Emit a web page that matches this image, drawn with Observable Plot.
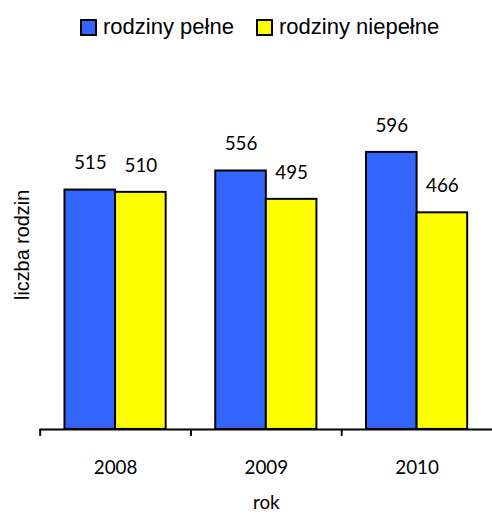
<!DOCTYPE html>
<html>
<head>
<meta charset="utf-8">
<script src="https://cdn.jsdelivr.net/npm/d3@7"></script>
<script src="https://cdn.jsdelivr.net/npm/@observablehq/plot@0.6"></script>
<style>
  html, body { margin: 0; padding: 0; background: #fff; overflow: hidden; width: 492px; height: 514px; }
  #legend { position: relative; height: 50px; font-family: "Liberation Sans", Arial, sans-serif; font-size: 22px; color: #000; }
  .item { position: absolute; top: 14px; display: flex; align-items: center; line-height: 26px; }
  .sw { width: 13px; height: 13px; border: 2px solid #000; margin-right: 6px; box-sizing: content-box; }
  #chart svg { display: block; overflow: visible; }
</style>
</head>
<body>
<div id="legend"></div>
<div id="chart"></div>
<script>
const years = ["2008", "2009", "2010"];
const series = ["rodziny pełne", "rodziny niepełne"];
const colors = ["#3366FF", "#FFFF00"];
const pelne = [515, 556, 596];
const niepelne = [510, 495, 466];

const data = years.flatMap((y, i) => [
  {year: y, series: series[0], value: pelne[i]},
  {year: y, series: series[1], value: niepelne[i]}
]);

// legend
const legend = document.getElementById("legend");
const lefts = [80, 256];
series.forEach((s, i) => {
  const it = document.createElement("div");
  it.className = "item";
  it.style.left = lefts[i] + "px";
  const sw = document.createElement("div");
  sw.className = "sw";
  sw.style.background = colors[i];
  const t = document.createElement("span");
  t.textContent = s;
  it.appendChild(sw); it.appendChild(t);
  legend.appendChild(it);
});

const W = 496, H = 464;
const band = (W - 40) / years.length;
const bw = 51, off = 25;

const plot = Plot.plot({
  width: W,
  height: H,
  marginLeft: 40,
  marginRight: 0,
  marginTop: 54,
  marginBottom: 82,
  style: {fontFamily: "Lato, sans-serif", background: "transparent"},
  x: {type: "band", domain: years, padding: 0},
  y: {domain: [0, 700], axis: null},
  color: {domain: series, range: colors},
  marks: [
    Plot.barY(data.filter(d => d.series === series[0]), {
      x: "year", y: "value", fill: "series", stroke: "black", strokeWidth: 2,
      insetLeft: off, insetRight: band - off - bw
    }),
    Plot.barY(data.filter(d => d.series === series[1]), {
      x: "year", y: "value", fill: "series", stroke: "black", strokeWidth: 2,
      insetLeft: off + bw, insetRight: band - off - 2 * bw
    }),
    Plot.text(data.filter(d => d.series === series[0]), {
      x: "year", y: "value", text: d => String(d.value),
      dx: -(band / 2 - off - bw / 2), dy: -27, fontSize: 19, fill: "#000"
    }),
    Plot.text(data.filter(d => d.series === series[1]), {
      x: "year", y: "value", text: d => String(d.value),
      dx: off + bw * 1.5 - band / 2, dy: -27, fontSize: 19, fill: "#000"
    }),
    Plot.ruleY([0], {stroke: "black", strokeWidth: 2}),
    Plot.ruleX(years, {x: d => d, y1: 0, y2: 0, dx: -band / 2, insetBottom: -7, stroke: "black", strokeWidth: 2}),
    Plot.axisX({tickSize: 0, tickPadding: 31, fontSize: 19, label: null, fill: "#000"}),
    Plot.text(["rok"], {frameAnchor: "bottom", dy: 80, fontSize: 19, fill: "#000"}),
    Plot.text(["liczba rodzin"], {frameAnchor: "left", textAnchor: "middle", rotate: -90, dx: -18, dy: -22, fontSize: 20, fill: "#000", fontFamily: "Liberation Sans, Arial, sans-serif"})
  ]
});
document.getElementById("chart").appendChild(plot);
</script>
</body>
</html>
